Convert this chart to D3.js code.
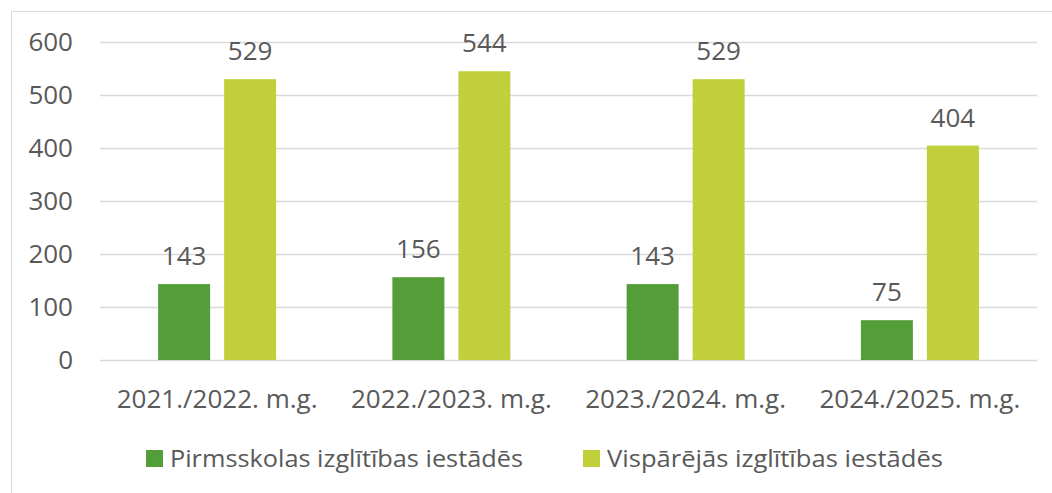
<!DOCTYPE html>
<html>
<head>
<meta charset="utf-8">
<script src="https://cdn.jsdelivr.net/npm/d3@7"></script>
<style>
  body { margin: 0; background: #fff; }
  text { font-family: "Open Sans", sans-serif; fill: #595959; }
</style>
</head>
<body>
<div id="chart"></div>
<script>
// data
var years = ["2021./2022. m.g.", "2022./2023. m.g.", "2023./2024. m.g.", "2024./2025. m.g."];
var seriesNames = ["Pirmsskolas izglītības iestādēs", "Vispārējās izglītības iestādēs"];
var pirmsskolas = [143, 156, 143, 75];
var visparejas = [529, 544, 529, 404];
var yTicks = [0, 100, 200, 300, 400, 500, 600];

var colours = ["#549E39", "#C0CF3A"];

var width = 1052, height = 493;

var svg = d3.select("#chart").append("svg")
  .attr("width", width)
  .attr("height", height);

// chart frame
svg.append("rect")
  .attr("x", 11.5).attr("y", 11.5)
  .attr("width", width + 10).attr("height", height + 10)
  .attr("fill", "none")
  .attr("stroke", "#D9D9D9")
  .attr("stroke-width", 1);

var rows = years.map((y, i) => ({ year: y, values: [pirmsskolas[i], visparejas[i]] }));

var x0 = d3.scaleBand()
  .domain(years)
  .range([100, 1037]);

var x1 = d3.scaleBand()
  .domain([0, 1])
  .range([-59, 59])
  .paddingInner(0.212);

var y = d3.scaleLinear()
  .domain([0, 600])
  .range([360, 41.5]);

// gridlines
svg.append("g")
  .selectAll("line")
  .data(yTicks)
  .join("line")
  .attr("x1", 100).attr("x2", 1037)
  .attr("y1", d => Math.round(y(d)) + 0.5)
  .attr("y2", d => Math.round(y(d)) + 0.5)
  .attr("stroke", "#D9D9D9")
  .attr("stroke-width", 1.5);

// y tick labels
svg.append("g")
  .selectAll("text")
  .data(yTicks)
  .join("text")
  .attr("x", 73)
  .attr("y", d => y(d))
  .attr("dy", "0.36em")
  .attr("text-anchor", "end")
  .style("font-size", "26px")
  .text(d => d);

// bars
var groups = svg.append("g")
  .selectAll("g")
  .data(rows)
  .join("g")
  .attr("transform", d => `translate(${x0(d.year) + x0.bandwidth() / 2},0)`);

groups.selectAll("rect")
  .data(d => d.values)
  .join("rect")
  .attr("x", (d, i) => x1(i))
  .attr("width", x1.bandwidth())
  .attr("y", d => y(d))
  .attr("height", d => y(0) - y(d))
  .attr("fill", (d, i) => colours[i]);

groups.selectAll("text")
  .data(d => d.values)
  .join("text")
  .attr("x", (d, i) => x1(i) + x1.bandwidth() / 2)
  .attr("y", d => y(d) - 19)
  .attr("text-anchor", "middle")
  .style("font-size", "26px")
  .text(d => d);

// category labels
svg.append("g")
  .selectAll("text")
  .data(years)
  .join("text")
  .attr("x", d => x0(d) + x0.bandwidth() / 2)
  .attr("y", 408)
  .attr("text-anchor", "middle")
  .style("font-size", "26px")
  .text(d => d);

// legend
var legendX = [146, 583];
var legendW = [353, 336];
var legend = svg.append("g")
  .selectAll("g")
  .data(seriesNames)
  .join("g")
  .attr("transform", (d, i) => `translate(${legendX[i]},0)`);

legend.append("rect")
  .attr("x", 0).attr("y", 450)
  .attr("width", 17).attr("height", 17)
  .attr("fill", (d, i) => colours[i]);

legend.append("text")
  .attr("x", 24)
  .attr("y", 467)
  .style("font-size", "24px")
  .attr("textLength", (d, i) => legendW[i])
  .attr("lengthAdjust", "spacingAndGlyphs")
  .text(d => d);
</script>
</body>
</html>
